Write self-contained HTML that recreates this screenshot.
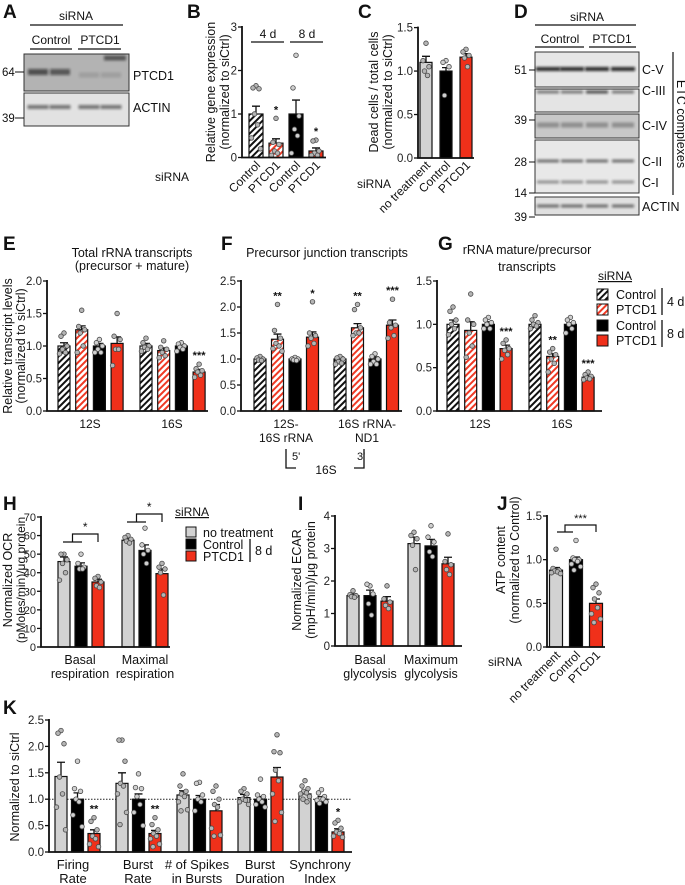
<!DOCTYPE html>
<html><head><meta charset="utf-8">
<style>
html,body{margin:0;padding:0;background:#fff;}
svg{display:block;font-family:"Liberation Sans",Arial,sans-serif;}
</style></head>
<body>
<svg id="fig" width="685" height="885" viewBox="0 0 685 885" xmlns="http://www.w3.org/2000/svg">
<defs>
<pattern id="hatchK" patternUnits="userSpaceOnUse" width="4.5" height="4.5" patternTransform="rotate(45)">
<rect width="4.5" height="4.5" fill="#fff"/><rect width="2" height="4.5" fill="#111"/></pattern>
<pattern id="hatchR" patternUnits="userSpaceOnUse" width="4.5" height="4.5" patternTransform="rotate(45)">
<rect width="4.5" height="4.5" fill="#fff"/><rect width="2" height="4.5" fill="#ef3a25"/></pattern>
<filter id="blur" x="-20%" y="-100%" width="140%" height="300%"><feGaussianBlur stdDeviation="1.3"/></filter>
</defs>
</svg>
<script>
// ---------- DATA ----------
const fillsSi = ['url(#hatchK)','url(#hatchR)','#000','#f0301a'];
const fillsTx = ['#d2d2d2','#000','#f0301a'];

const bCats = ['Control','PTCD1','Control','PTCD1'];
const bMeans = [[1.0,0.33,1.0,0.15]];
const bErrs = [[0.18,0.1,0.32,0.07]];
const bPts = [[[1.65,1.6,1.58,1.0,0.75,0.45,0.2],[0.9,0.35,0.3,0.15,0.1,0.05],[2.35,1.6,0.95,0.65,0.5,0.1],[0.4,0.38,0.15,0.1,0.05,0.05]]];
const bStars = [['','*','','*']];
const bTicks = [0,1,2,3];

const cCats = ['no treatment','Control','PTCD1'];
const cMeans = [[1.1,1.0,1.16]];
const cErrs = [[0.07,0.04,0.04]];
const cPts = [[[1.32,1.12,1.05,1.0,0.95],[1.12,1.1,1.05,0.72],[1.25,1.22,1.18,1.15,1.05]]];
const cTicks = [0,0.5,1.0,1.5];

const eMeans = [[1.0,1.25,1.0,1.04],[1.0,0.93,1.0,0.6]];
const eErrs = [[0.05,0.06,0.04,0.1],[0.04,0.04,0.03,0.04]];
const ePts = [[[1.2,1.15,1.0,0.95,0.9,0.88],[1.55,1.3,1.25,1.2,1.0,0.9],[1.1,1.05,1.0,0.95,0.9,0.9],[1.5,1.15,1.1,0.95,0.95,0.7]],
              [[1.12,1.05,1.0,0.98,0.95,0.92],[1.08,0.98,0.95,0.9,0.85,0.82],[1.05,1.03,1.0,0.98,0.95,0.92],[0.72,0.65,0.62,0.6,0.55,0.52]]];
const eStars = [['','','',''],['','','','***']];
const eTicks = [0,0.5,1.0,1.5,2.0];

const fMeans = [[1.0,1.38,1.0,1.42],[1.0,1.6,1.0,1.65]];
const fErrs = [[0.03,0.1,0.02,0.1],[0.04,0.08,0.04,0.1]];
const fPts = [[[1.05,1.02,1.0,0.98,0.97],[2.05,1.55,1.4,1.3,1.25,1.2,1.15],[1.03,1.0,1.0,0.98,0.97],[2.1,1.5,1.45,1.4,1.3,1.25]],
              [[1.05,1.02,1.0,0.95,0.92,0.9],[2.05,1.95,1.6,1.5,1.5,1.45],[1.1,1.05,1.0,0.95,0.9,0.9],[2.15,1.7,1.65,1.6,1.45,1.4]]];
const fStars = [['','**','','*'],['','**','','***']];
const fTicks = [0,0.5,1.0,1.5,2.0,2.5];

const gMeans = [[1.0,0.93,1.0,0.72],[1.0,0.63,1.0,0.39]];
const gErrs = [[0.05,0.1,0.03,0.04],[0.02,0.03,0.02,0.02]];
const gPts = [[[1.2,1.15,1.05,1.0,0.95,0.88],[1.35,1.05,1.0,0.9,0.75,0.62],[1.08,1.05,1.02,1.0,0.95,0.95],[0.82,0.78,0.72,0.7,0.65,0.6]],
              [[1.1,1.05,1.02,1.0,0.98,0.95],[0.72,0.68,0.65,0.6,0.55,0.45],[1.08,1.05,1.02,1.0,0.95,0.9],[0.45,0.42,0.4,0.38,0.37,0.36]]];
const gStars = [['','','','***'],['','**','','***']];
const gTicks = [0,0.5,1.0,1.5];

const hMeans = [[46,43.5,35],[57.5,52,39.5]];
const hErrs = [[2.5,1.8,1.5],[1.2,3,2.5]];
const hPts = [[[50,50,47,45,40,36],[50,45,43,42,42],[38,37,35,33,32]],[[60,59,58,57,56],[64,55,52,50,45],[45,43,42,40,28]]];
const hTicks = [0,10,20,30,40,50,60,70];

const iMeans = [[1.55,1.55,1.38],[3.15,3.08,2.53]];
const iErrs = [[0.05,0.17,0.14],[0.2,0.2,0.2]];
const iPts = [[[1.7,1.58,1.55,1.52,1.5],[1.85,1.9,1.6,1.3,0.95],[1.85,1.45,1.35,1.25,1.15]],[[3.5,3.4,3.3,3.1,2.35],[3.7,3.35,3.2,2.9,2.75],[3.45,2.6,2.5,2.35,2.2]]];
const iTicks = [0,1,2,3,4];

const jCats = ['no treatment','Control','PTCD1'];
const jMeans = [[0.88,1.0,0.5]];
const jErrs = [[0.03,0.03,0.05]];
const jPts = [[[1.12,0.9,0.88,0.87,0.86,0.85,0.84],[1.22,1.02,1.0,1.0,0.98,0.95,0.92,0.88],[0.72,0.68,0.62,0.55,0.45,0.38,0.32,0.28]]];
const jTicks = [0,0.5,1.0,1.5];

const kMeans = [[1.43,1.0,0.35],[1.3,1.0,0.35],[1.08,1.0,0.78],[1.03,1.0,1.42],[1.1,1.0,0.38]];
const kErrs = [[0.27,0.12,0.07],[0.2,0.1,0.06],[0.08,0.07,0.12],[0.06,0.05,0.18],[0.05,0.05,0.06]];
const kPts = [[[2.3,2.25,2.05,1.42,1.1,0.85,0.42],[1.72,1.2,1.15,1.0,0.95,0.7,0.48],[0.65,0.58,0.42,0.3,0.25,0.15,0.1]],
              [[2.12,2.12,1.72,1.3,1.25,1.1,0.75,0.52],[1.48,1.22,1.2,1.05,0.9,0.75,0.5],[0.65,0.52,0.42,0.35,0.3,0.25,0.15,0.1]],
              [[1.48,1.25,1.15,1.1,1.05,0.95,0.8,0.78],[1.32,1.3,1.08,1.0,0.95,0.78],[1.25,1.15,1.0,0.9,0.85,0.45,0.32,0.3]],
              [[1.2,1.15,1.1,1.0,0.98,0.95,0.9],[1.38,1.08,1.05,1.0,0.95,0.9,0.85],[2.22,1.9,1.88,1.55,1.35,1.1,0.75,0.58]],
              [[1.35,1.25,1.2,1.15,1.12,1.1,1.05,1.0,0.95],[1.18,1.12,1.05,1.0,1.0,0.98,0.95,0.92],[0.6,0.55,0.45,0.38,0.35,0.3,0.28]]];
const kStars = [['','','**'],['','','**'],['','',''],['','',''],['','','*']];
const kTicks = [0,0.5,1.0,1.5,2.0,2.5];

// ---------- HELPERS ----------
const svg = document.getElementById('fig');
const NS = 'http://www.w3.org/2000/svg';
function mk(tag, attrs, parent){
  const e = document.createElementNS(NS, tag);
  for (const k in attrs) e.setAttribute(k, attrs[k]);
  (parent || svg).appendChild(e);
  return e;
}
function txt(x, y, s, size, anchor, extra){
  const t = mk('text', Object.assign({x:x, y:y, 'font-size':size||12, 'text-anchor':anchor||'start', fill:'#111'}, extra||{}));
  t.textContent = s;
  return t;
}
function fmt(v, dec){ return dec ? v.toFixed(dec) : String(v); }
const jit = [0,-3,3,-1.5,1.5,-4.5,4.5,-2,2];

function drawChart(p){
  const g = mk('g', {});
  
  
  const ys = v => p.yBot - v / p.yMax * (p.yBot - p.yTop);
  const xs = (gi, bi) => p.first + gi * p.groupGap + bi * p.barGap;
  p.ticks.forEach(t => {
    const tl = mk('line', {x1:p.axisX-4, x2:p.axisX, y1:ys(t), y2:ys(t), stroke:'#111', 'stroke-width':1.3}, g);
    
    
    const lb = txt(p.axisX-5, ys(t)+4, fmt(t, p.dec), p.tickSize || 11.5, 'end', {fill:'#222'});
    g.appendChild(lb);
    
    
  });
  if (p.refLine !== undefined){
    const rl = mk('line', {x1:p.axisX, x2:p.xEnd, y1:ys(p.refLine), y2:ys(p.refLine), stroke:'#222', 'stroke-width':1, 'stroke-dasharray':'1.5,1.5'}, g);
    
    
  }
  p.means.forEach((grp, gi) => {
    grp.forEach((m, bi) => {
      const cx = xs(gi, bi);
      const fill = p.fills[bi];
      const r = mk('rect', {x:cx-p.barW/2, y:ys(m), width:p.barW, height:p.yBot-ys(m), fill:fill, stroke:'#111', 'stroke-width':1.2}, g);
      
      
      const e = p.errs[gi][bi];
      const eb = mk('path', {d:'M'+cx+' '+ys(m)+'V'+ys(m+e)+'M'+(cx-4)+' '+ys(m+e)+'H'+(cx+4), stroke:'#111', 'stroke-width':1.3, fill:'none'}, g);
      
      
      const pts = p.points[gi][bi];
      let top = ys(m+e);
      pts.forEach((v, k) => {
        const c = mk('circle', {cx:cx + jit[k % jit.length], cy:ys(v), r:2.3, fill: fill==='#000' ? '#cfcfcf' : '#b5b5b5', stroke:'#4a4a4a', 'stroke-width':0.8}, g);
        
        
        top = Math.min(top, ys(v));
      });
      const st = p.stars ? p.stars[gi][bi] : '';
      if (st){
        const s = txt(cx, top-5, st, 11, 'middle', {'font-weight':'bold'});
        g.appendChild(s);
        
        
      }
    });
  });
  const ax = mk('path', {d:'M'+p.axisX+' '+(p.yTop-1)+'V'+p.yBot+'H'+p.xEnd, stroke:'#111', 'stroke-width':1.8, fill:'none'}, g);
  
  
  return {ys:ys, xs:xs};
}
function rotText(x, y, s, size, anchor, name){
  const t = txt(0, 0, s, size||12, anchor||'middle', {transform:'translate('+x+','+y+') rotate(-90)'});
  
  
  return t;
}
function diagLabel(x, y, s, name){
  const t = txt(0, 0, s, 12, 'end', {transform:'translate('+x+','+y+') rotate(-45)'});
  
  
  return t;
}
function label(x, y, s, size, anchor, name, extra){
  const t = txt(x, y, s, size, anchor, extra);
  
  
  return t;
}
function line(d, name, w){
  const l = mk('path', {d:d, stroke:'#111', 'stroke-width':w||1.3, fill:'none'});
  
  
  return l;
}
function blot(x, y, w, h, bg, bands, name){
  const g = mk('g', {});
  
  
  mk('rect', {x:x, y:y, width:w, height:h, fill:bg, stroke:'#333', 'stroke-width':1}, g);
  bands.forEach(b => {
    mk('rect', {x:b[0]-b[2]/2, y:b[1]-b[3]/2, width:b[2], height:b[3], fill:'#111', opacity:b[4], filter:'url(#blur)'}, g);
  });
  return g;
}
const panelLetter = (x, y, s) => label(x, y, s, 19, 'start', 'panel-label-' + s.toLowerCase(), {'font-weight':'bold'});

// ---------- PANEL A ----------
panelLetter(3, 18, 'A');
label(76, 20, 'siRNA', 12, 'middle', 'sirna-header');
line('M30 25H123', 'sirna-line', 1.2);
label(51, 44, 'Control', 12, 'middle', 'control-header');
label(100, 44, 'PTCD1', 12, 'middle', 'ptcd1-header');
line('M30 49H72M78 49H121', 'group-underline', 1.2);
const laneA = [38, 60, 89, 111];
blot(24, 54, 105, 37, '#b3b3b3', [[laneA[0],72,20,6,0.6],[laneA[1],72,20,6,0.55],[laneA[2],75,20,5,0.12],[laneA[3],75,20,5,0.12],[laneA[3]+4,58,22,5,0.55]], 'ptcd1-blot');
blot(24, 93, 105, 33, '#e2e2e2', [[laneA[0],107,21,4,0.5],[laneA[1],107,21,4,0.5],[laneA[2],107,21,4,0.5],[laneA[3],107,21,4,0.5]], 'actin-blot-a');
label(2, 76, '64', 11.5, 'start', 'marker-64');
line('M15 72H24', 'marker-tick', 1);
label(2, 122, '39', 11.5, 'start', 'marker-39');
line('M15 118H24', 'marker-tick', 1);
label(133, 80, 'PTCD1', 12.5, 'start', 'blot-label-ptcd1');
label(133, 112, 'ACTIN', 12.5, 'start', 'blot-label-actin');

// ---------- PANEL B ----------
panelLetter(187, 18, 'B');
const bp = drawChart({name:'chart-b', axisX:242, yTop:27, yBot:157.5, yMax:3, xEnd:326, ticks:bTicks, dec:0,
  first:256, groupGap:0, barGap:20, barW:14, fills:fillsSi, means:bMeans, errs:bErrs, points:bPts, stars:bStars});
rotText(215, 92, 'Relative gene expression', 12.5, 'middle', 'y-axis-title-b');
rotText(229, 92, '(normalized to siCtrl)', 12.5, 'middle', 'y-axis-subtitle-b');
label(268, 38, '4 d', 12, 'middle', 'label-4d');
line('M251 42H284', 'bracket-4d', 1.2);
label(307, 38, '8 d', 12, 'middle', 'label-8d');
line('M290 42H323', 'bracket-8d', 1.2);
label(172, 181, 'siRNA', 12, 'middle', 'x-axis-title-b');
bCats.forEach((c, i) => diagLabel(bp.xs(0, i)+5, 166, c, 'x-tick-label-b'));

// ---------- PANEL C ----------
panelLetter(358, 18, 'C');
const cp = drawChart({name:'chart-c', axisX:418, yTop:27.6, yBot:158, yMax:1.5, xEnd:474, ticks:cTicks, dec:1,
  first:426, groupGap:0, barGap:20, barW:12, fills:fillsTx, means:cMeans, errs:cErrs, points:cPts});
rotText(378, 92, 'Dead cells / total cells', 12.5, 'middle', 'y-axis-title-c');
rotText(392, 92, '(normalized to siCtrl)', 12.5, 'middle', 'y-axis-subtitle-c');
label(374, 188, 'siRNA', 12, 'middle', 'x-axis-title-c');
cCats.forEach((c, i) => diagLabel(cp.xs(0, i)+5, 166, c, 'x-tick-label-c'));

// ---------- PANEL D ----------
panelLetter(514, 18, 'D');
label(587, 21, 'siRNA', 12, 'middle', 'sirna-header-d');
line('M535 25H636', 'sirna-line-d', 1.2);
label(560, 43, 'Control', 12, 'middle', 'control-header-d');
label(612, 43, 'PTCD1', 12, 'middle', 'ptcd1-header-d');
line('M535 47H584M589 47H636', 'group-underline-d', 1.2);
const laneD = [548, 572, 597, 623];
blot(535, 52, 104, 35, '#e6e6e6', laneD.map(x => [x,69,24,4,0.85]), 'blot-c-v');
blot(535, 89, 104, 23, '#e4e4e4', laneD.map((x,i) => [x,92,22,3,i===2?0.7:0.5]), 'blot-c-iii');
blot(535, 114, 104, 24, '#c8c8c8', laneD.map(x => [x,125,22,5,0.3]), 'blot-c-iv');
blot(535, 140, 104, 53, '#e8e8e8', laneD.map(x => [x,161,22,3,0.55]).concat(laneD.map(x => [x,182,22,3,0.4])), 'blot-c-ii-c-i');
blot(535, 197, 104, 18, '#e0e0e0', laneD.map(x => [x,206,22,3,0.55]), 'blot-actin-d');
[['51',70],['39',120],['28',162],['14',193],['39',217]].forEach(m => {
  label(527, m[1]+4, m[0], 11.5, 'end', 'marker-label');
  line('M529 '+m[1]+'H535', 'marker-tick', 1);
});
[['C-V',74],['C-III',95],['C-IV',130],['C-II',166],['C-I',187],['ACTIN',211]].forEach(c => label(642, c[1], c[0], 12.5, 'start', 'complex-label'));
line('M673 52V195', 'etc-bracket', 1.2);
const etc = txt(0, 0, 'ETC complexes', 12.5, 'middle', {transform:'translate(677,124) rotate(90)'});



// ---------- PANEL E ----------
panelLetter(3, 250, 'E');
label(132, 257, 'Total rRNA transcripts', 12.5, 'middle', 'title-e');
label(132, 270, '(precursor + mature)', 12.5, 'middle', 'subtitle-e');
drawChart({name:'chart-e', axisX:47, yTop:281, yBot:411, yMax:2, xEnd:208, ticks:eTicks, dec:1,
  first:64, groupGap:82, barGap:17.7, barW:12, fills:fillsSi, means:eMeans, errs:eErrs, points:ePts, stars:eStars});
rotText(12, 346, 'Relative transcript levels', 12.5, 'middle', 'y-axis-title-e');
rotText(25, 346, '(normalized to siCtrl)', 12.5, 'middle', 'y-axis-subtitle-e');
label(90, 428, '12S', 12, 'middle', 'x-label-12s');
label(172, 428, '16S', 12, 'middle', 'x-label-16s');

// ---------- PANEL F ----------
panelLetter(221, 250, 'F');
label(327, 257, 'Precursor junction transcripts', 12.5, 'middle', 'title-f');
drawChart({name:'chart-f', axisX:241, yTop:281, yBot:411, yMax:2.5, xEnd:402, ticks:fTicks, dec:1,
  first:260, groupGap:80, barGap:17.5, barW:12, fills:fillsSi, means:fMeans, errs:fErrs, points:fPts, stars:fStars});
label(286, 428, '12S-', 12, 'middle', 'x-label-12s-16s');
label(286, 442, '16S rRNA', 12, 'middle', 'x-label-12s-16s-2');
label(367, 428, '16S rRNA-', 12, 'middle', 'x-label-16s-nd1');
label(367, 442, 'ND1', 12, 'middle', 'x-label-16s-nd1-2');
line('M286 449V468H296', 'bracket-5prime', 1.3);
line('M364 449V468H354', 'bracket-3prime', 1.3);
label(292, 460, "5'", 11, 'start', 'label-5prime');
label(357, 460, "3'", 11, 'start', 'label-3prime');
label(326, 474, '16S', 12, 'middle', 'label-16s-region');

// ---------- PANEL G ----------
panelLetter(438, 250, 'G');
label(527, 254, 'rRNA mature/precursor', 12.5, 'middle', 'title-g');
label(527, 271, 'transcripts', 12.5, 'middle', 'subtitle-g');
drawChart({name:'chart-g', axisX:437, yTop:281, yBot:411, yMax:1.5, xEnd:602, ticks:gTicks, dec:1,
  first:453, groupGap:82, barGap:17.7, barW:12, fills:fillsSi, means:gMeans, errs:gErrs, points:gPts, stars:gStars});
label(480, 428, '12S', 12, 'middle', 'x-label-12s-g');
label(562, 428, '16S', 12, 'middle', 'x-label-16s-g');
label(598, 280, 'siRNA', 12, 'start', 'legend-title-g', {'text-decoration':'underline'});
const legG = [['Control','url(#hatchK)',294],['PTCD1','url(#hatchR)',309],['Control','#000',325],['PTCD1','#f0301a',340]];
legG.forEach(l => {
  const r = mk('rect', {x:597, y:l[2]-5, width:11, height:11, fill:l[1], stroke:'#111', 'stroke-width':1});
  
  
  label(616, l[2]+5, l[0], 12.5, 'start', 'legend-entry');
});
line('M662 288V315', 'legend-bracket-4d', 1.3);
line('M662 320V347', 'legend-bracket-8d', 1.3);
label(667, 306, '4 d', 12.5, 'start', 'legend-4d');
label(667, 338, '8 d', 12.5, 'start', 'legend-8d');

// ---------- PANEL H ----------
panelLetter(3, 510, 'H');
const hp = drawChart({name:'chart-h', axisX:41, yTop:517, yBot:647, yMax:70, xEnd:170, ticks:hTicks, dec:0, tickSize:11,
  first:64, groupGap:64, barGap:17, barW:12, fills:fillsTx, means:hMeans, errs:hErrs, points:hPts});
rotText(12, 580, 'Normalized OCR', 12.5, 'middle', 'y-axis-title-h');
rotText(25, 580, '(pMoles/min)/μg protein', 12, 'middle', 'y-axis-subtitle-h');
[0,1].forEach(gi => {
  const yb = gi === 0 ? 542 : 522;
  const a = hp.xs(gi,0)-1, b = hp.xs(gi,1)+1, m = (a+b)/2, c = hp.xs(gi,2);
  line('M'+a+' '+yb+'H'+b+'M'+m+' '+yb+'V'+(yb-8)+'H'+c+'V'+yb, 'significance-bracket-h', 1.2);
  label((m+c)/2, yb-11, '*', 12, 'middle', 'significance-star-h');
});
label(80, 664, 'Basal', 12.5, 'middle', 'x-label-basal');
label(80, 678, 'respiration', 12.5, 'middle', 'x-label-basal-2');
label(145, 664, 'Maximal', 12.5, 'middle', 'x-label-maximal');
label(145, 678, 'respiration', 12.5, 'middle', 'x-label-maximal-2');
label(175, 516, 'siRNA', 12, 'start', 'legend-title-h', {'text-decoration':'underline'});
[['no treatment','#d2d2d2',532],['Control','#000',544],['PTCD1','#f0301a',556]].forEach(l => {
  const r = mk('rect', {x:186, y:l[2]-5, width:10, height:10, fill:l[1], stroke:'#111', 'stroke-width':1});
  
  
  label(203, l[2]+5, l[0], 12.5, 'start', 'legend-entry');
});
line('M250 539V562', 'legend-bracket-8d-h', 1.3);
label(255, 555, '8 d', 12.5, 'start', 'legend-8d-h');

// ---------- PANEL I ----------
panelLetter(298, 510, 'I');
drawChart({name:'chart-i', axisX:335, yTop:516, yBot:646, yMax:4, xEnd:462, ticks:iTicks, dec:0,
  first:353, groupGap:61, barGap:17, barW:12, fills:fillsTx, means:iMeans, errs:iErrs, points:iPts});
rotText(301, 580, 'Normalized ECAR', 12.5, 'middle', 'y-axis-title-i');
rotText(315, 580, '(mpH/min)/μg protein', 12.5, 'middle', 'y-axis-subtitle-i');
label(370, 664, 'Basal', 12.5, 'middle', 'x-label-basal-glycolysis');
label(370, 678, 'glycolysis', 12.5, 'middle', 'x-label-basal-glycolysis-2');
label(431, 664, 'Maximum', 12.5, 'middle', 'x-label-max-glycolysis');
label(431, 678, 'glycolysis', 12.5, 'middle', 'x-label-max-glycolysis-2');

// ---------- PANEL J ----------
panelLetter(497, 510, 'J');
const jp = drawChart({name:'chart-j', axisX:547, yTop:516, yBot:647, yMax:1.5, xEnd:605, ticks:jTicks, dec:1,
  first:556, groupGap:0, barGap:20, barW:13, fills:fillsTx, means:jMeans, errs:jErrs, points:jPts});
rotText(505, 560, 'ATP content', 12.5, 'middle', 'y-axis-title-j');
rotText(519, 560, '(normalized to Control)', 12.5, 'middle', 'y-axis-subtitle-j');
(function(){
  const a = jp.xs(0,0)+1, b = jp.xs(0,1)-3, m = (a+b)/2, c = jp.xs(0,2);
  line('M'+a+' 532H'+b+'M'+m+' 532V525H'+c+'V532', 'significance-bracket-j', 1.2);
  label((m+c)/2, 522, '***', 11, 'middle', 'significance-star-j');
})();
label(505, 666, 'siRNA', 12, 'middle', 'x-axis-title-j');
jCats.forEach((c, i) => diagLabel(jp.xs(0, i)+5, 656, c, 'x-tick-label-j'));

// ---------- PANEL K ----------
panelLetter(3, 714, 'K');
drawChart({name:'chart-k', axisX:49, yTop:720, yBot:852, yMax:2.5, xEnd:352, ticks:kTicks, dec:1, refLine:1.0,
  first:61, groupGap:61, barGap:16.5, barW:12, fills:fillsTx, means:kMeans, errs:kErrs, points:kPts, stars:kStars});
rotText(19, 787, 'Normalized to siCtrl', 12.5, 'middle', 'y-axis-title-k');
[['Firing','Rate',73],['Burst','Rate',138],['# of Spikes','in Bursts',197],['Burst','Duration',260],['Synchrony','Index',320]].forEach(l => {
  label(l[2], 869, l[0], 13, 'middle', 'x-label-k');
  label(l[2], 883, l[1], 13, 'middle', 'x-label-k-2');
});
</script>
</body></html>
